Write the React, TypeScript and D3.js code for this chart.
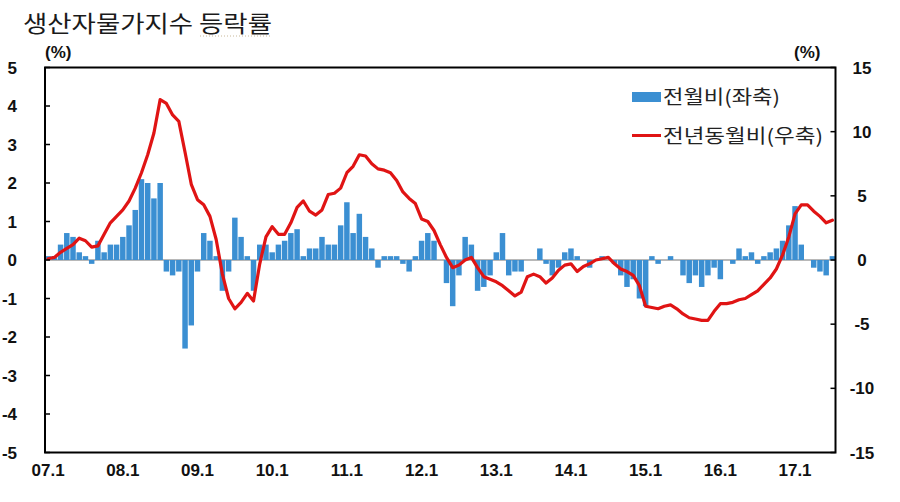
import React from "react";
import * as d3 from "d3";

// ---- data ----
const years = ["07", "08", "09", "10", "11", "12", "13", "14", "15", "16", "17"];
const monthsPerYear = 12;
const totalMonths = 127; // 07.1 .. 17.7
const categories: string[] = [];
years.forEach((y) => {
  for (let m = 1; m <= monthsPerYear; m++) {
    if (categories.length < totalMonths) categories.push(`${y}.${m}`);
  }
});
const tickLabels = ["07.1", "08.1", "09.1", "10.1", "11.1", "12.1", "13.1", "14.1", "15.1", "16.1", "17.1"];

// 전월비 (left axis, %)
const momValues = [
  0.1, 0.1, 0.4, 0.7, 0.6, 0.2, 0.1, -0.1, 0.5, 0.2, 0.4, 0.4,
  0.6, 0.9, 1.3, 2.1, 2.0, 1.6, 2.0, -0.3, -0.4, -0.3, -2.3, -1.7,
  -0.3, 0.7, 0.5, 0.1, -0.8, -0.3, 1.1, 0.6, 0.1, -0.8, 0.4, 0.4,
  0.2, 0.4, 0.5, 0.7, 0.8, 0.1, 0.3, 0.3, 0.6, 0.4, 0.4, 0.9,
  1.5, 0.7, 1.2, 0.6, 0.3, -0.2, 0.1, 0.1, 0.1, -0.1, -0.3, 0.1,
  0.5, 0.7, 0.5, 0.0, -0.6, -1.2, -0.4, 0.6, 0.4, -0.8, -0.7, -0.4,
  0.2, 0.7, -0.4, -0.3, -0.3, 0.0, 0.0, 0.3, -0.1, -0.4, -0.2, 0.2,
  0.3, 0.1, 0.0, -0.2, 0.0, 0.1, 0.0, -0.1, -0.4, -0.7, -0.5, -1.0,
  -1.2, 0.1, -0.1, 0.0, 0.1, 0.0, -0.4, -0.6, -0.4, -0.7, -0.4, -0.2,
  -0.5, 0.0, -0.1, 0.3, 0.1, 0.2, -0.1, 0.1, 0.2, 0.3, 0.5, 0.9,
  1.4, 0.4, 0.0, -0.2, -0.3, -0.4, 0.1,
];

// 전년동월비 (right axis, %)
const yoyValues = [
  0.1, 0.2, 0.6, 0.9, 1.2, 1.7, 1.5, 1.0, 1.1, 2.0, 2.9, 3.4,
  3.9, 4.6, 5.6, 6.8, 8.2, 9.9, 12.5, 12.2, 11.3, 10.8, 8.4, 5.9,
  4.7, 4.3, 3.4, 1.6, -1.1, -3.0, -3.8, -3.3, -2.6, -3.2, -0.3, 1.8,
  2.6, 2.0, 2.0, 2.9, 4.1, 4.6, 3.8, 3.5, 3.9, 5.1, 5.2, 5.6,
  6.8, 7.3, 8.2, 8.1, 7.5, 7.1, 7.0, 6.8, 6.2, 5.3, 4.8, 4.4,
  3.2, 3.0, 2.3, 1.2, 0.2, -0.6, -0.4, 0.0, 0.2, -0.6, -1.3, -1.5,
  -1.7, -2.0, -2.4, -2.8, -2.5, -1.3, -1.1, -1.3, -1.8, -1.4, -0.8, -0.4,
  -0.3, -0.9, -0.5, -0.3, 0.0, 0.1, 0.2, -0.3, -0.7, -0.9, -1.2, -2.0,
  -3.6, -3.7, -3.8, -3.6, -3.5, -3.8, -4.2, -4.5, -4.6, -4.7, -4.7, -4.0,
  -3.4, -3.4, -3.3, -3.1, -3.0, -2.7, -2.4, -1.9, -1.4, -0.7, 0.4, 1.8,
  3.6, 4.3, 4.3, 3.8, 3.4, 2.9, 3.1,
];

const leftTicks = [-5, -4, -3, -2, -1, 0, 1, 2, 3, 4, 5];
const rightTicks = [-15, -10, -5, 0, 5, 10, 15];

const title = "생산자물가지수 등락률";
const barLegend = "전월비(좌축)";
const lineLegend = "전년동월비(우축)";

// ---- layout ----
const W = 900;
const H = 502;
const X0 = 45;
const X1 = 835.5;
const YT = 67.5;
const YB = 452.5;

const BAR = "#3b8fd2";
const RED = "#e01414";
const NUM_FONT = "'Liberation Sans Narrow', 'Liberation Sans', Arial, sans-serif";
const KR_FONT = "'Noto Sans CJK KR', 'Noto Sans KR', sans-serif";

export default function App() {
  const x = d3
    .scaleBand<string>()
    .domain(categories)
    .range([X0, X1])
    .paddingInner(0.12)
    .paddingOuter(0.06);
  const yL = d3.scaleLinear().domain([-5, 5]).range([YB, YT]);
  const yR = d3.scaleLinear().domain([-15, 15]).range([YB, YT]);
  const cx = (c: string) => (x(c) as number) + x.bandwidth() / 2;

  const line = d3
    .line<number>()
    .x((_, i) => cx(categories[i]))
    .y((d) => yR(d));

  return (
    <svg
      width={W}
      height={H}
      viewBox={`0 0 ${W} ${H}`}
      style={{ position: "absolute", left: 0, top: 0, background: "#fff" }}
    >
      <rect x={0} y={0} width={W} height={H} fill="#fff" />
      {/* title */}
      <text
        x={23}
        y={32}
        fontFamily={KR_FONT}
        fontSize={23}
        fill="#1a1a1a"
        textLength={249}
        lengthAdjust="spacingAndGlyphs"
      >
        {title}
      </text>
      <line x1={200} x2={272} y1={36} y2={36} stroke="#c8b89a" strokeWidth={1} strokeDasharray="1,2" />

      {/* unit labels */}
      <text x={45} y={58} fontFamily={NUM_FONT} fontWeight="bold" fontSize={17} fill="#111">
        (%)
      </text>
      <text x={794} y={58} fontFamily={NUM_FONT} fontWeight="bold" fontSize={17} fill="#111">
        (%)
      </text>

      {/* zero line */}
      <line x1={X0} x2={X1} y1={yL(0)} y2={yL(0)} stroke="#a0a0a0" strokeWidth={1.5} />

      {/* bars */}
      {momValues.map((v, i) => {
        const c = categories[i];
        const y0 = yL(0);
        const y1 = yL(v);
        return (
          <rect
            key={c}
            x={x(c)}
            width={x.bandwidth()}
            y={Math.min(y0, y1)}
            height={Math.max(Math.abs(y1 - y0), v === 0 ? 0 : 0.5)}
            fill={BAR}
          />
        );
      })}

      {/* line */}
      <path
        d={line(yoyValues) || ""}
        fill="none"
        stroke={RED}
        strokeWidth={3.2}
        strokeLinejoin="round"
        strokeLinecap="round"
      />

      {/* frame */}
      <rect x={X0} y={YT} width={X1 - X0} height={YB - YT} fill="none" stroke="#000" strokeWidth={2} />

      {/* left axis ticks */}
      {leftTicks.map((t) => (
        <g key={`l${t}`}>
          <line x1={X0} x2={X0 + 5} y1={yL(t)} y2={yL(t)} stroke="#000" strokeWidth={1.5} />
          <text
            x={17}
            y={yL(t)}
            dy="0.36em"
            textAnchor="end"
            fontFamily={NUM_FONT}
            fontWeight="bold"
            fontSize={17}
            fill="#111"
          >
            {t}
          </text>
        </g>
      ))}

      {/* right axis ticks */}
      {rightTicks.map((t) => (
        <g key={`r${t}`}>
          <line x1={X1 - 5} x2={X1} y1={yR(t)} y2={yR(t)} stroke="#000" strokeWidth={1.5} />
          <text
            x={862}
            y={yR(t)}
            dy="0.36em"
            textAnchor="middle"
            fontFamily={NUM_FONT}
            fontWeight="bold"
            fontSize={17}
            fill="#111"
          >
            {t}
          </text>
        </g>
      ))}

      {/* x labels */}
      {tickLabels.map((lab) => (
        <text
          key={lab}
          x={cx(lab)}
          y={476}
          textAnchor="middle"
          fontFamily={NUM_FONT}
          fontWeight="bold"
          fontSize={17}
          fill="#111"
        >
          {lab}
        </text>
      ))}

      {/* legend */}
      <rect x={632} y={92} width={29} height={10} fill={BAR} />
      <text
        x={663}
        y={104}
        fontFamily={KR_FONT}
        fontSize={19}
        fill="#222"
        textLength={117}
        lengthAdjust="spacingAndGlyphs"
      >
        {barLegend}
      </text>
      <line x1={632} x2={661} y1={135.5} y2={135.5} stroke={RED} strokeWidth={3} />
      <text
        x={663}
        y={142.5}
        fontFamily={KR_FONT}
        fontSize={19}
        fill="#222"
        textLength={160}
        lengthAdjust="spacingAndGlyphs"
      >
        {lineLegend}
      </text>
    </svg>
  );
}
